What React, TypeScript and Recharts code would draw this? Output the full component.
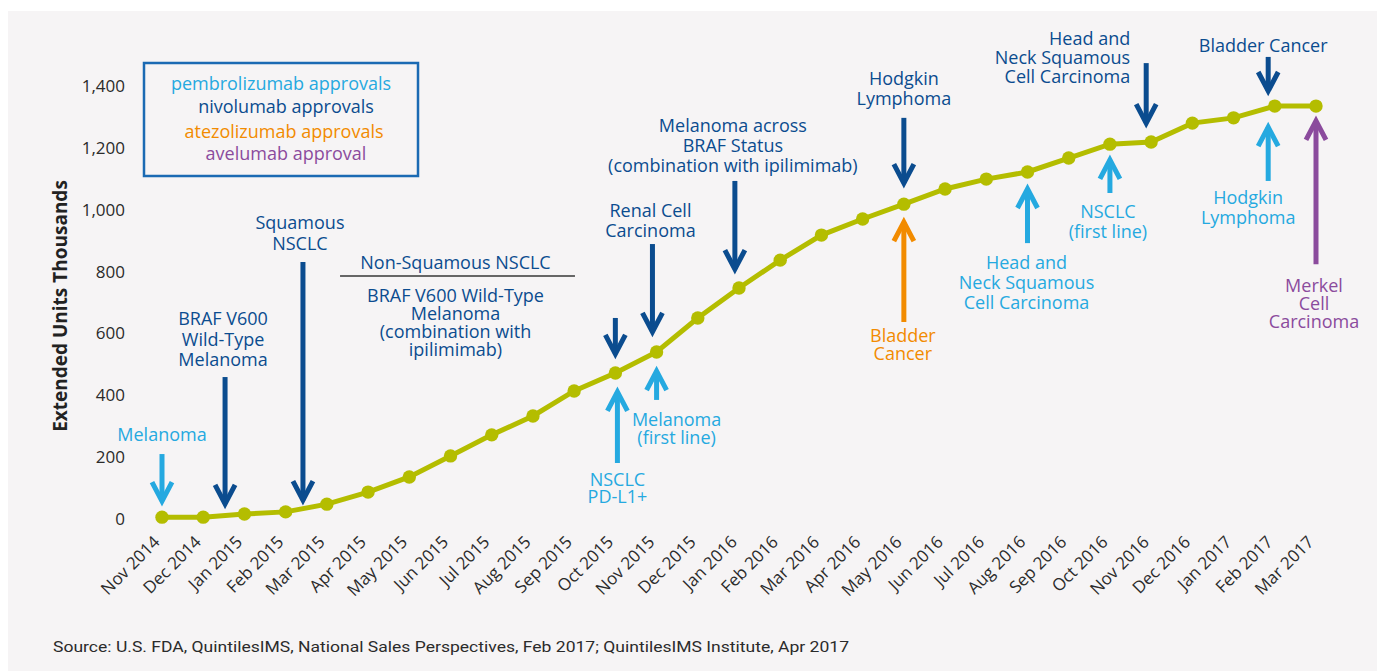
import { LineChart, Line, XAxis, YAxis, ReferenceLine } from 'recharts'

const months = [
  'Nov 2014', 'Dec 2014', 'Jan 2015', 'Feb 2015', 'Mar 2015', 'Apr 2015',
  'May 2015', 'Jun 2015', 'Jul 2015', 'Aug 2015', 'Sep 2015', 'Oct 2015',
  'Nov 2015', 'Dec 2015', 'Jan 2016', 'Feb 2016', 'Mar 2016', 'Apr 2016',
  'May 2016', 'Jun 2016', 'Jul 2016', 'Aug 2016', 'Sep 2016', 'Oct 2016',
  'Nov 2016', 'Dec 2016', 'Jan 2017', 'Feb 2017', 'Mar 2017',
]

// extended units, thousands
const units = [
  6, 6, 16, 23, 48, 87, 136, 204, 272, 333, 414, 472, 540, 650, 747, 837,
  918, 970, 1018, 1067, 1099, 1122, 1167, 1212, 1219, 1280, 1297, 1335, 1335,
]

const yTicks = [0, 200, 400, 600, 800, 1000, 1200, 1400]

const legendItems = [
  { drug: 'pembro', text: 'pembrolizumab approvals' },
  { drug: 'nivo', text: 'nivolumab approvals' },
  { drug: 'atezo', text: 'atezolizumab approvals' },
  { drug: 'avel', text: 'avelumab approval' },
]

// approval arrows: month position, arrow tail/tip in units
const approvals = [
  { drug: 'pembro', at: 0, from: 210, to: 45, lines: ['Melanoma'] },
  { drug: 'nivo', at: 1.53, from: 459, to: 36, lines: ['BRAF V600', 'Wild-Type', 'Melanoma'] },
  { drug: 'nivo', at: 3.42, from: 831, to: 48, lines: ['Squamous', 'NSCLC'] },
  { drug: 'nivo', at: 11, from: 650, to: 521, lines: [] },
  { drug: 'pembro', at: 11.05, from: 181, to: 424, lines: ['NSCLC', 'PD-L1+'] },
  { drug: 'nivo', at: 11.9, from: 889, to: 592, lines: ['Renal Cell', 'Carcinoma'] },
  { drug: 'pembro', at: 12, from: 385, to: 491, lines: ['Melanoma', '(first line)'] },
  { drug: 'nivo', at: 13.9, from: 1093, to: 795, lines: ['Melanoma across', 'BRAF Status', '(combination with ipilimimab)'] },
  { drug: 'nivo', at: 18, from: 1297, to: 1073, lines: ['Hodgkin', 'Lymphoma'] },
  { drug: 'atezo', at: 18, from: 637, to: 973, lines: ['Bladder', 'Cancer'] },
  { drug: 'pembro', at: 21, from: 892, to: 1080, lines: ['Head and', 'Neck Squamous', 'Cell Carcinoma'] },
  { drug: 'pembro', at: 23, from: 1054, to: 1174, lines: ['NSCLC', '(first line)'] },
  { drug: 'nivo', at: 23.88, from: 1474, to: 1267, lines: ['Head and', 'Neck Squamous', 'Cell Carcinoma'] },
  { drug: 'nivo', at: 26.84, from: 1494, to: 1371, lines: ['Bladder Cancer'] },
  { drug: 'pembro', at: 26.84, from: 1093, to: 1280, lines: ['Hodgkin', 'Lymphoma'] },
  { drug: 'avel', at: 28, from: 824, to: 1300, lines: ['Merkel', 'Cell', 'Carcinoma'] },
]

// label placement per arrow (same order): dx, first-line offset, line height, anchor
const labelLayout = [
  { dx: 0, ly: -20, lh: 20 },
  { dx: -2, ly: -59, lh: 20.5 },
  { dx: -3, ly: -40, lh: 21 },
  { dx: 0, ly: 0, lh: 20 },
  { dx: 0, ly: 16, lh: 17 },
  { dx: -2, ly: -34, lh: 20 },
  { dx: 20, ly: 19, lh: 18 },
  { dx: -2, ly: -56, lh: 20 },
  { dx: 0, ly: -40, lh: 20 },
  { dx: -1, ly: 13, lh: 18 },
  { dx: -1, ly: 19, lh: 20 },
  { dx: -2, ly: 18, lh: 20 },
  { dx: -16, ly: -25, lh: 19, anchor: 'end' },
  { dx: -5, ly: -12, lh: 20 },
  { dx: -20, ly: 16, lh: 20 },
  { dx: -2, ly: 21, lh: 18 },
]

const nonSqTitle = 'Non-Squamous NSCLC'
const nonSqLines = ['BRAF V600 Wild-Type', 'Melanoma', '(combination with', 'ipilimimab)']

const COLORS: Record<string, string> = {
  pembro: '#25a9e0',
  nivo: '#0b4c8f',
  atezo: '#f28b00',
  avel: '#8b4b9d',
}
const LINE_COLOR = '#b4bd00'
const FONT = '"Open Sans", Lato, sans-serif'

const data = months.map((m, i) => ({ i, month: m, units: units[i] }))
const xTicks = months.map((_, i) => i)

function MonthTick(props: any) {
  const { x, y, payload } = props
  const tx = x - 1
  const ty = y + 24
  return (
    <text
      x={tx}
      y={ty}
      transform={`rotate(-45, ${tx}, ${ty})`}
      textAnchor="end"
      fill="#2b2b2b"
      fontSize={17}
      fontFamily={FONT}
    >
      {months[payload.value]}
    </text>
  )
}

function MultiLine({ x, y, lh, lines, color, anchor }: any) {
  if (!lines.length) return null
  return (
    <text
      x={x}
      y={y}
      textAnchor={anchor}
      dominantBaseline="central"
      fill={color}
      fontSize={18}
      fontFamily={FONT}
    >
      {lines.map((t: string, i: number) => (
        <tspan key={i} x={x} y={y + i * lh} dominantBaseline="central">
          {t}
        </tspan>
      ))}
    </text>
  )
}

function arrowShape(idx: number) {
  const a = approvals[idx]
  const l: any = labelLayout[idx]
  const color = COLORS[a.drug]
  return (p: any) => {
    const { x1, y1, x2, y2 } = p
    const dir = y2 > y1 ? 1 : -1
    const tip = y2 - dir * 4
    return (
      <g>
        <line x1={x1} y1={y1} x2={x2} y2={tip} stroke={color} strokeWidth={5} />
        <polyline
          points={`${x2 - 10},${tip - dir * 19} ${x2},${tip} ${x2 + 10},${tip - dir * 19}`}
          fill="none"
          stroke={color}
          strokeWidth={5}
          strokeLinejoin="miter"
        />
        <MultiLine
          x={x1 + l.dx}
          y={y1 + l.ly}
          lh={l.lh}
          lines={a.lines}
          color={color}
          anchor={l.anchor ?? 'middle'}
        />
      </g>
    )
  }
}

function nonSqShape(p: any) {
  const { x1, y1, x2 } = p
  const cx = (x1 + x2) / 2 - 2
  const color = COLORS.nivo
  return (
    <g>
      <line x1={x1} y1={y1} x2={x2} y2={y1} stroke="#666" strokeWidth={2} />
      <MultiLine x={cx} y={y1 - 14} lh={20} lines={[nonSqTitle]} color={color} anchor="middle" />
      <MultiLine x={cx} y={y1 + 19} lh={18} lines={nonSqLines} color={color} anchor="middle" />
    </g>
  )
}

export default function App() {
  return (
    <div style={{ paddingTop: 3 }}>
      <div style={{ position: 'relative', width: 1377, height: 660, background: '#f6f4f5', fontFamily: FONT }}>
        <LineChart width={1377} height={660} data={data} margin={{ top: 75, right: 69, bottom: 52, left: 0 }}>
          <XAxis
            dataKey="i"
            type="number"
            domain={[0, 28]}
            ticks={xTicks}
            interval={0}
            axisLine={false}
            tickLine={false}
            tickSize={0}
            tickMargin={0}
            height={100}
            tick={<MonthTick />}
          />
          <YAxis
            type="number"
            domain={[0, 1400]}
            ticks={yTicks}
            width={154}
            axisLine={false}
            tickLine={false}
            tickSize={0}
            tickMargin={37}
            tick={{ fill: '#2b2b2b', fontSize: 17, fontFamily: FONT }}
            tickFormatter={(v: number) => v.toLocaleString('en-US')}
          />
          <Line
            dataKey="units"
            stroke={LINE_COLOR}
            strokeWidth={5}
            dot={{ r: 6.7, fill: LINE_COLOR, stroke: LINE_COLOR, strokeWidth: 0 }}
            isAnimationActive={false}
          />
          {approvals.map((a, i) => (
            <ReferenceLine
              key={i}
              segment={[{ x: a.at, y: a.from }, { x: a.at, y: a.to }]}
              ifOverflow="visible"
              shape={arrowShape(i)}
            />
          ))}
          <ReferenceLine
            segment={[{ x: 4.32, y: 786 }, { x: 10.02, y: 786 }]}
            ifOverflow="visible"
            shape={nonSqShape}
          />
        </LineChart>
        <svg width={1377} height={660} style={{ position: 'absolute', left: 0, top: 0, pointerEvents: 'none' }}>
          <rect x={136} y={52} width={274} height={113} fill="none" stroke="#1b6ab3" strokeWidth={2.5} />
          {legendItems.map((d, i) => (
            <text
              key={d.text}
              x={[273, 278, 276, 278][i]}
              y={[72, 95, 120, 142][i]}
              textAnchor="middle"
              dominantBaseline="central"
              fill={COLORS[d.drug]}
              fontSize={18}
              fontFamily={FONT}
            >
              {d.text}
            </text>
          ))}
          <text
            x={52}
            y={295}
            transform="rotate(-90, 52, 295)"
            textAnchor="middle"
            dominantBaseline="central"
            fill="#222"
            fontSize={19}
            fontWeight={700}
            fontFamily={FONT}
          >
            Extended Units Thousands
          </text>
          <text x={45} y={636} dominantBaseline="central" fill="#2b2b2b" fontSize={15} fontFamily="Roboto, sans-serif" textLength={796} lengthAdjust="spacingAndGlyphs">
            Source: U.S. FDA, QuintilesIMS, National Sales Perspectives, Feb 2017; QuintilesIMS Institute, Apr 2017
          </text>
        </svg>
      </div>
    </div>
  )
}
